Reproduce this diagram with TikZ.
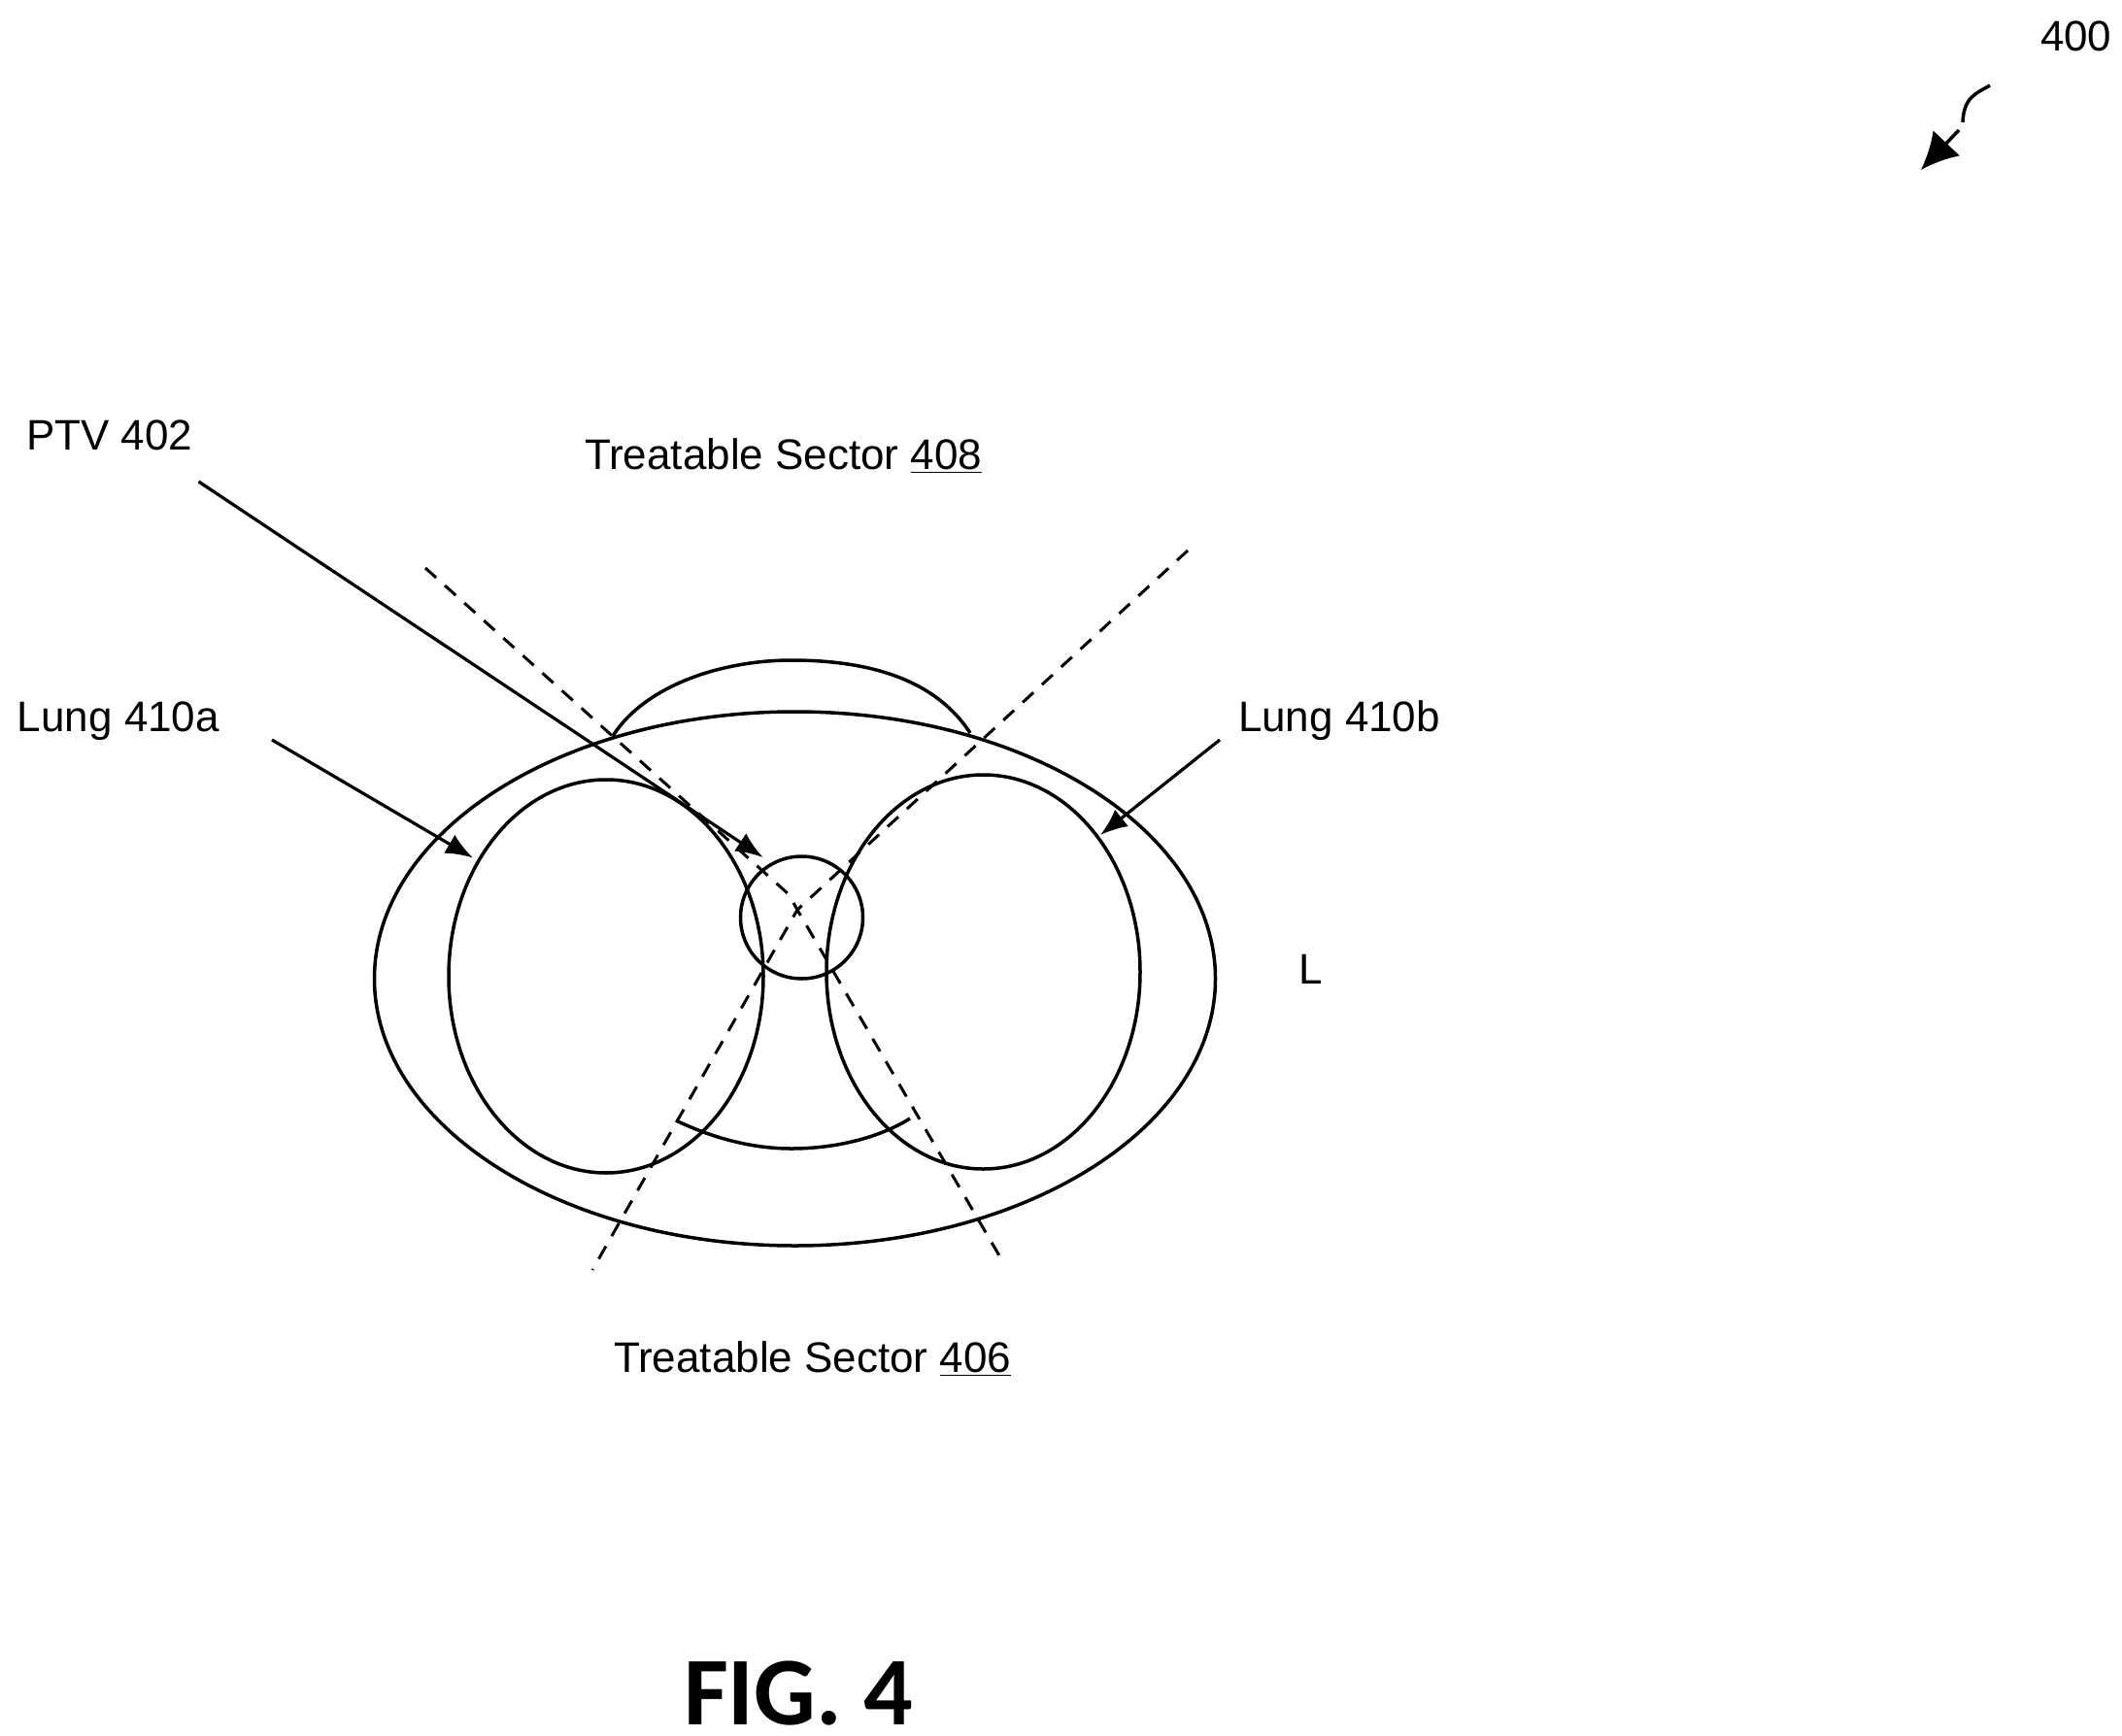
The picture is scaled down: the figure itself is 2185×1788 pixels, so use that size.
\documentclass[tikz,border=0pt]{standalone}
\usepackage{fontspec}
\setmainfont{Liberation Sans}
\newfontfamily\figfont{Carlito}[Scale=1]
\usetikzlibrary{arrows.meta,shapes.geometric}
\tikzset{
  organ/.style={draw=black,line width=1.75pt,ellipse,inner sep=0pt,outer sep=0pt},
  curve/.style={draw=black,line width=1.75pt},
  sector/.style={draw=black,line width=1.5pt,dash pattern=on 7.5pt off 6pt},
  lead/.style={draw=black,line width=1.6pt,-{Latex[length=14pt,width=11pt]}},
  label/.style={anchor=base west,inner sep=0pt,outer sep=0pt,font=\fontsize{22}{26}\selectfont,text=black},
}
\begin{document}
\begin{tikzpicture}[x=0.5pt,y=-0.5pt]
\useasboundingbox (0,0) rectangle (2185,1788);
\fill[white] (0,0) rectangle (2185,1788);
% organs
\node[organ,minimum width=433pt,minimum height=275pt] (body) at (818.5,1008) {};
\node[organ,minimum width=162pt,minimum height=202.5pt] (lungL) at (624,1005.5) {};
\node[organ,minimum width=161.5pt,minimum height=203pt] (lungR) at (1012.5,1001) {};
\node[organ,circle,minimum size=63pt] (ptv) at (825.5,945) {};
% arcs
\coordinate (a1) at (631,758);
\coordinate (a2) at (815,680);
\coordinate (a3) at (999,755);
\coordinate (b1) at (696,1154);
\coordinate (b2) at (815,1183);
\coordinate (b3) at (937,1152);
\draw[curve] (a1) .. controls (665,705) and (745,680) .. (a2) .. controls (885,680) and (960,695) .. (a3);
\draw[curve] (b1) .. controls (740,1175) and (780,1183) .. (b2) .. controls (860,1183) and (905,1172) .. (b3);
% sector lines
\coordinate (sA) at (438,585);
\coordinate (sAk) at (812,921);
\coordinate (sC) at (821,937);
\coordinate (sAe) at (1030,1295);
\coordinate (sB) at (1223,567);
\coordinate (sBe) at (610,1308);
\draw[sector] (sA) -- (sAk) -- (sC) -- (sAe);
\draw[sector] (sB) -- (sC) -- (sBe);
% labels
\node[label] (t400) at (2101,52) {400};
\node[label] (tptv) at (27,463) {PTV 402};
\node[label] (t408) at (602,483) {Treatable Sector \underline{408}};
\node[label] (tla) at (18,753) {Lung 410a};
\node[label] (tlb) at (1275,753) {Lung 410b};
\node[label] (tL) at (1337,1013) {L};
\node[label] (t406) at (632,1413) {Treatable Sector \underline{406}};
\node[anchor=base west,inner sep=0pt,outer sep=0pt,font=\figfont\bfseries\fontsize{50}{60}\selectfont] (tfig) at (704,1776) {FIG. 4};
% leaders
\coordinate (pS) at (204.5,496);
\coordinate (pT) at (785.6,883);
\coordinate (laS) at (280,762);
\coordinate (laT) at (487,883.5);
\coordinate (lbS) at (1256,762);
\coordinate (lbT) at (1133,860);
\draw[lead] (pS) -- (pT);
\draw[lead] (laS) -- (laT);
\draw[lead] (lbS) -- (lbT);
% 400 arrow
\coordinate (nS) at (2049,88);
\coordinate (nM) at (2021,126);
\coordinate (nG) at (2017,134);
\coordinate (nT) at (1978,175);
\draw[curve] (nS) .. controls (2035,96) and (2022,100) .. (nM);
\draw[draw=black,line width=1.75pt,-{Latex[length=19pt,width=19pt]}] (nG) -- (nT);
\end{tikzpicture}
\end{document}
